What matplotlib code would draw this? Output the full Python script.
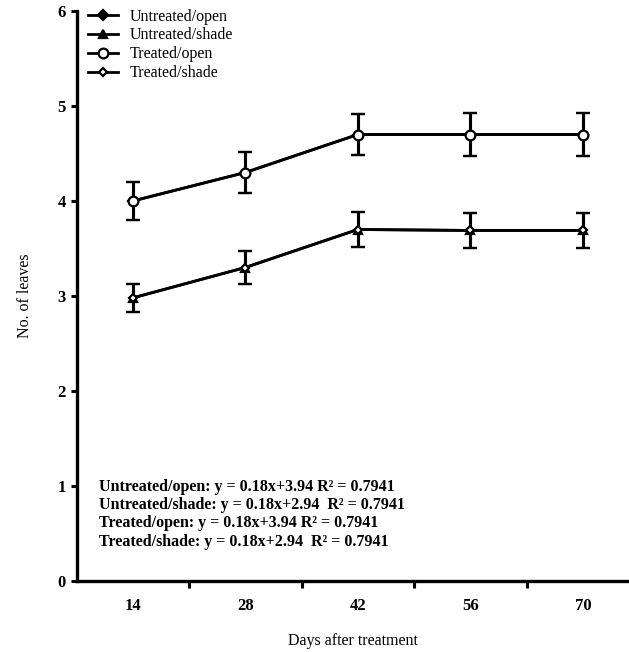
import matplotlib
matplotlib.use("Agg")
import matplotlib.pyplot as plt
from matplotlib.lines import Line2D
import numpy as np

days = ["14", "28", "42", "56", "70"]
series_names = ["Untreated/open", "Untreated/shade", "Treated/open", "Treated/shade"]
untreated_open = [4.0, 4.3, 4.7, 4.7, 4.7]
untreated_open_err = [0.2, 0.22, 0.22, 0.23, 0.23]
untreated_shade = [2.98, 3.3, 3.7, 3.69, 3.69]
untreated_shade_err = [0.15, 0.17, 0.18, 0.18, 0.18]
treated_open = [4.0, 4.3, 4.7, 4.7, 4.7]
treated_open_err = [0.2, 0.22, 0.22, 0.23, 0.23]
treated_shade = [2.98, 3.3, 3.7, 3.69, 3.69]
treated_shade_err = [0.15, 0.17, 0.18, 0.18, 0.18]
equations = [
    "Untreated/open: y = 0.18x+3.94 R² = 0.7941",
    "Untreated/shade: y = 0.18x+2.94  R² = 0.7941",
    "Treated/open: y = 0.18x+3.94 R² = 0.7941",
    "Treated/shade: y = 0.18x+2.94  R² = 0.7941",
]

plt.rcParams['font.family'] = ['Liberation Serif', 'DejaVu Serif']

fig = plt.figure(figsize=(6.29, 6.52), dpi=100)
W, H = 629, 652
left, right, bottom_px, top_px = 76.5, 629, 581, 11
ax = fig.add_axes([left / W, (H - bottom_px) / H, (right - left) / W, (bottom_px - top_px) / H])

x = np.arange(len(days))
styles = [
    (untreated_open, untreated_open_err, 'D', 'black', 5),
    (untreated_shade, untreated_shade_err, '^', 'black', 6),
    (treated_open, treated_open_err, 'o', 'white', 7),
    (treated_shade, treated_shade_err, 'D', 'white', 4.5),
]
handles = []
for (vals, errs, m, fc, ms), name in zip(styles, series_names):
    ax.errorbar(x, vals, yerr=errs, color='black', lw=2, marker=m, ms=ms,
                mfc=fc, mec='black', mew=1.6, capsize=5, capthick=2.2, elinewidth=2.2)
    handles.append(Line2D([], [], color='black', lw=2, marker=m, ms=ms,
                          mfc=fc, mec='black', mew=1.6, label=name))

ax.set_xlim(-0.5, 4.41)
ax.set_ylim(0, 6)
ax.spines['top'].set_visible(False)
ax.spines['right'].set_visible(False)
ax.spines['left'].set_linewidth(2.4)
ax.spines['bottom'].set_linewidth(2.4)

ax.set_xticks(x)
ax.set_xticklabels(days, fontweight='bold', fontsize=12)
ax.tick_params(axis='x', length=0, pad=12)
ax.set_xticks(np.arange(0.5, 4.0, 1.0), minor=True)
ax.tick_params(axis='x', which='minor', length=5, width=2.2, direction='out')
ax.set_yticks(range(7))
ax.set_yticklabels([str(i) for i in range(7)], fontweight='bold', fontsize=12)
ax.tick_params(axis='y', length=4.5, width=2.2, direction='out', pad=3)

ax.set_xlabel("Days after treatment", fontsize=11.5, labelpad=14)
ax.set_ylabel("No. of leaves", fontsize=11.5, labelpad=18)

ax.legend(handles=handles, loc='upper left', bbox_to_anchor=(0.0, 1.024), frameon=False,
          fontsize=11.5, handlelength=1.9, handletextpad=0.75, labelspacing=0.18,
          borderaxespad=0.3)

for i, eq in enumerate(equations):
    ax.text(0.04, 0.165 - i * 0.032, eq, transform=ax.transAxes, fontsize=11.5,
            fontweight='bold', va='center', ha='left')

fig.savefig("out.png", dpi=100)
